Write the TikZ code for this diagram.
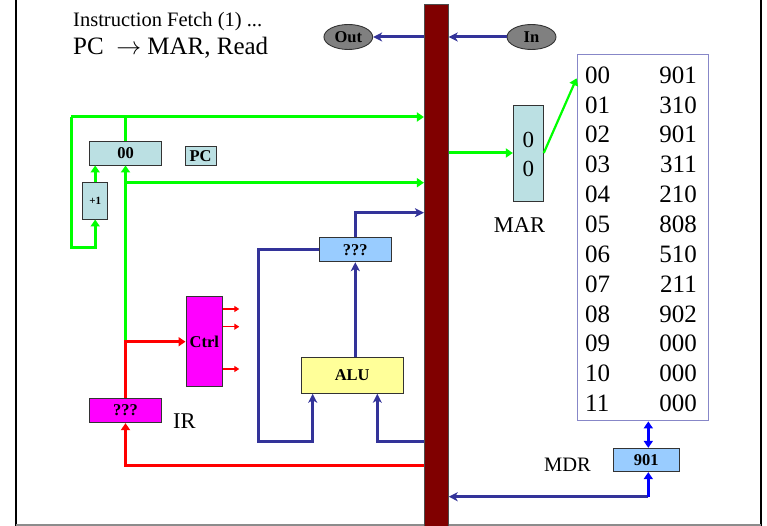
\documentclass[tikz,border=0pt]{standalone}
\usepackage{fontspec}
\setmainfont{Liberation Serif}
\usetikzlibrary{arrows.meta,shapes.geometric}
\definecolor{busred}{RGB}{128,0,0}
\definecolor{navy}{RGB}{51,51,153}
\definecolor{grn}{RGB}{0,255,0}
\definecolor{regblue}{RGB}{187,224,227}
\definecolor{skyb}{RGB}{153,204,255}
\definecolor{aluy}{RGB}{255,255,153}
\definecolor{magen}{RGB}{255,0,255}
\definecolor{memline}{RGB}{135,135,200}
\definecolor{pureblue}{RGB}{0,0,255}
\tikzset{
  box/.style={draw=black!80, line width=0.9pt, inner sep=0pt, font=\bfseries\fontsize{16.5}{16.5}\selectfont},
  grnA/.style={draw=grn, line width=3pt, -{Triangle[length=7pt,width=9pt]}},
  grnL/.style={draw=grn, line width=3pt},
  navyA/.style={draw=navy, line width=3pt, -{Stealth[length=9pt,width=9pt,inset=2.5pt]}},
  redA/.style={draw=red, line width=3pt, -{Triangle[length=7pt,width=9pt]}},
  redS/.style={draw=red, line width=1.3pt, -{Triangle[length=5pt,width=6pt]}},
  bluA/.style={draw=pureblue, line width=3pt, -{Triangle[length=7pt,width=9pt]}},
  memtxt/.style={font=\fontsize{25}{25}\selectfont, inner sep=0pt},
}
\begin{document}
\begin{tikzpicture}[x=1pt,y=-1pt]
\useasboundingbox (0,0) rectangle (767,526);
% frame
\draw[black, line width=2.5pt] (16,0) -- (16,526);
\draw[black, line width=2pt] (760.5,0) -- (760.5,526);
\draw[black!45, line width=1.5pt] (16,525) -- (760.5,525);
% title
\node[anchor=base west, inner sep=0pt, font=\fontsize{20.5}{20.5}\selectfont] (t1) at (73,27) {Instruction Fetch (1) ...};
\node[anchor=base west, inner sep=0pt, font=\fontsize{25}{25}\selectfont] (t2) at (73,55) {PC~~$\rightarrow$ MAR, Read};
% bus
\node[draw=black!70, line width=0.8pt, fill=busred, minimum width=24pt, minimum height=530pt, inner sep=0pt] (bus) at (436.3,269) {};
% Out / In
\node[box, ellipse, fill=gray, minimum width=48.7pt, minimum height=25pt] (out) at (348.3,37) {Out};
\node[box, ellipse, fill=gray, minimum width=49pt, minimum height=25pt] (in) at (531.5,37) {In};
\draw[navyA] (in.west) -- (in.west -| bus.east);
\draw[navyA] (bus.west |- out.east) -- (out.east);
% PC
\node[box, fill=regblue, minimum width=72.4pt, minimum height=24pt] (pc) at (125.5,153) {00};
\node[box, fill=regblue, minimum width=31pt, minimum height=18.3pt] (pclab) at (200.5,156) {PC};
\node[box, fill=regblue, minimum width=25pt, minimum height=36.3pt, font=\bfseries\fontsize{11}{11}\selectfont] (inc) at (95.2,200.9) {+1};
% MAR
\node[box, fill=regblue, minimum width=30pt, minimum height=96pt] (mar) at (528.3,153) {};
\node[memtxt, anchor=base, font=\fontsize{23}{23}\selectfont] (mar0a) at (528.3,147.3) {0};
\node[memtxt, anchor=base, font=\fontsize{23}{23}\selectfont] (mar0b) at (528.3,176.7) {0};
\node[anchor=base, inner sep=0pt, font=\fontsize{22.5}{22.5}\selectfont] (marlab) at (519.5,233) {MAR};
% memory
\node[draw=memline, line width=1.4pt, minimum width=131pt, minimum height=366.4pt, inner sep=0pt] (mem) at (642.8,237.5) {};
\foreach \a/\v [count=\i from 0] in {00/901,01/310,02/901,03/311,04/210,05/808,06/510,07/211,08/902,09/000,10/000,11/000}{
  \node[memtxt, anchor=base west] (ma\i) at (585,83.3+29.85*\i) {\a};
  \node[memtxt, anchor=base east] (mv\i) at (697,83.3+29.85*\i) {\v};
}
% MDR
\node[box, fill=skyb, minimum width=66pt, minimum height=23.4pt] (mdr) at (646.3,460) {901};
\node[anchor=base, inner sep=0pt, font=\fontsize{20.5}{20.5}\selectfont] (mdrlab) at (567.5,471.7) {MDR};
% ALU and output register
\node[box, fill=skyb, minimum width=72.7pt, minimum height=24pt] (q) at (355.3,249.7) {???};
\node[box, fill=aluy, minimum width=102.3pt, minimum height=36pt] (alu) at (352.2,375.3) {ALU};
% Ctrl and IR
\node[box, fill=magen, minimum width=36.7pt, minimum height=90pt] (ctrl) at (204.3,341.7) {Ctrl};
\node[box, fill=magen, minimum width=72.4pt, minimum height=24.4pt] (ir) at (125.5,410.5) {???};
\node[anchor=base west, inner sep=0pt, font=\fontsize{22.5}{22.5}\selectfont] (irlab) at (173,428.3) {IR};
% coordinates
\coordinate (lc) at (71,117);
\coordinate (lb) at (71,247.7);
\coordinate (jn) at (ir.north |- ctrl.west);
\coordinate (g2) at (125.5,182.7);
\coordinate (c1) at (239.3,309);
\coordinate (c2) at (239.3,326.7);
\coordinate (c3) at (239.3,369);
\coordinate (rb) at (125.5,465);
\coordinate (mdrc) at (648.3,496.7);
\coordinate (qt) at (355.3,212.7);
\coordinate (ll) at (258.3,441);
\coordinate (ar) at (377.3,441);
% green connectors
\draw[grnA] (lc) -- (bus.west |- lc);
\draw[grnL] (pc.north) -- (pc.north |- lc);
\draw[grnA] (lc) -- (lb) -| (inc.south);
\draw[grnA] (inc.north) -- (inc.north |- pc.south);
\draw[grnA] (jn) -- (pc.south);
\draw[grnA] (g2) -- (bus.west |- g2);
\draw[grnA] (bus.east |- mar.west) -- (mar.west);
\draw[grnA, line width=2.2pt] (mar.east) -- (mem.west |- 0,78.3);
% red connectors
\draw[redA] (ir.north) -- (jn) -- (ctrl.west);
\draw[redS] (ctrl.east |- c1) -- (c1);
\draw[redS] (ctrl.east |- c2) -- (c2);
\draw[redS] (ctrl.east |- c3) -- (c3);
\draw[redA] (bus.west |- rb) -- (rb) -- (ir.south);
% blue / navy connectors
\draw[bluA, {Triangle[length=7pt,width=9pt]}-{Triangle[length=7pt,width=9pt]}] (mdrc |- mem.south) -- (mdrc |- mdr.north);
\draw[navyA] (mdrc) -- (bus.east |- mdrc);
\draw[bluA] (mdrc) -- (mdrc |- mdr.south);
\draw[navyA] (q.north) -- (qt) -- (bus.west |- qt);
\draw[navyA] (q.west) -| (ll) -| ([xshift=-39.5pt]alu.south);
\draw[navyA] (q.south |- alu.north) -- (q.south);
\draw[navyA] (bus.west |- ar) -- (ar) -- (ar |- alu.south);
\end{tikzpicture}
\end{document}
